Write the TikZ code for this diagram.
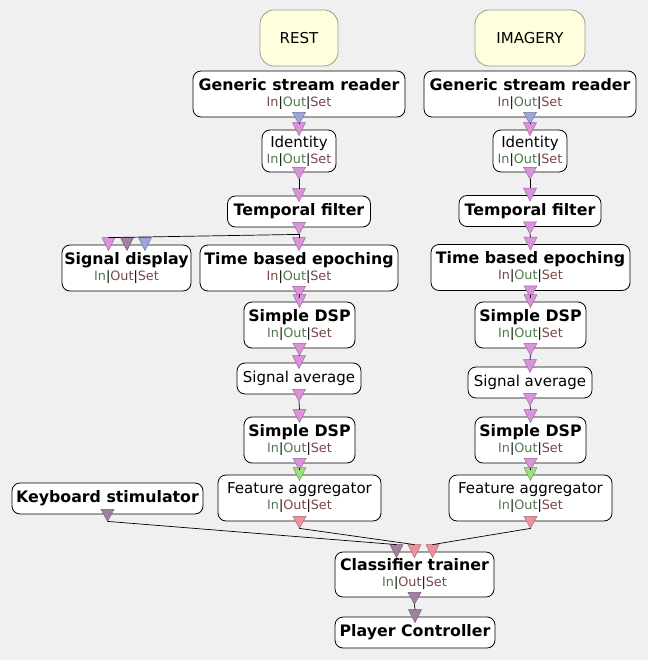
\documentclass[tikz,border=0pt]{standalone}
\usepackage{fontspec}
\setmainfont{DejaVu Sans}
\usepackage{xcolor}
\usetikzlibrary{positioning}

\definecolor{canvas}{HTML}{F0F0F0}
\definecolor{notefill}{HTML}{FFFFDD}
\definecolor{sigport}{HTML}{DA92DA}
\definecolor{infoport}{HTML}{9DA5DC}
\definecolor{featport}{HTML}{EE919B}
\definecolor{matport}{HTML}{9CDC7C}
\definecolor{stimport}{HTML}{A280A2}
\definecolor{okcol}{HTML}{4E7A4E}
\definecolor{nocol}{HTML}{7A4646}

\newcommand{\io}[3]{{\fontsize{12.8}{16}\selectfont\textcolor{#1}{In}|\textcolor{#2}{Out}|\textcolor{#3}{Set}}}
\newcommand{\head}[1]{{\fontsize{15.8}{16}\selectfont\bfseries #1}}

\begin{document}
\begin{tikzpicture}[
    x=1pt, y=-1pt,
    font=\fontsize{15}{16}\selectfont,
    box/.style={draw, rounded corners=8pt, fill=white, align=center, inner sep=0pt, line width=0.8pt},
    twoline/.style={box, minimum height=46pt},
    oneline/.style={box, minimum height=31pt},
    note/.style={draw=black!40, rounded corners=14pt, fill=notefill, inner sep=0pt, line width=0.8pt},
    arr/.style={line width=0.7pt},
    pics/oport/.style={code={
        \filldraw[fill=#1, draw=#1!70!black, line width=0.4pt] (-6.5,-5) -- (6.5,-5) -- (0,7) -- cycle;
        \coordinate (-tip) at (0,7);}},
    pics/iport/.style={code={
        \filldraw[fill=#1, draw=#1!70!black, line width=0.4pt] (-6.5,-7) -- (6.5,-7) -- (0,6) -- cycle;
        \coordinate (-top) at (0,-7);}}
]
\fill[canvas] (0,0) rectangle (648,660);
\useasboundingbox (0,0) rectangle (648,660);

\node[note, minimum width=78pt, minimum height=56pt] (rest) at (299,38) {REST};
\node[note, minimum width=110pt, minimum height=56pt] (imag) at (530,38) {IMAGERY};

\node[twoline, minimum width=212pt] (gsrL) at (299,94) {\head{Generic stream reader}\\\io{nocol}{okcol}{nocol}};
\node[twoline, minimum width=212pt] (gsrR) at (530,94) {\head{Generic stream reader}\\\io{nocol}{okcol}{nocol}};
\node[box, minimum width=74pt, minimum height=42pt, text depth=3pt] (idL) at (299,151) {Identity\\\io{okcol}{okcol}{nocol}};
\node[box, minimum width=74pt, minimum height=42pt, text depth=3pt] (idR) at (530,151) {Identity\\\io{okcol}{okcol}{nocol}};
\node[oneline, minimum width=143pt] (tfL) at (299,211.5) {\head{Temporal filter}};
\node[oneline, minimum width=142pt] (tfR) at (530,211) {\head{Temporal filter}};
\node[twoline, minimum width=129pt] (sdisp) at (126.5,268) {\head{Signal display}\\\io{okcol}{nocol}{nocol}};
\node[twoline, minimum width=198pt] (tbeL) at (299,268) {\head{Time based epoching}\\\io{nocol}{okcol}{nocol}};
\node[twoline, minimum width=199pt] (tbeR) at (530.5,267.5) {\head{Time based epoching}\\\io{nocol}{okcol}{nocol}};
\node[twoline, minimum width=111pt] (dspL) at (299.5,325) {\head{Simple DSP}\\\io{okcol}{okcol}{nocol}};
\node[twoline, minimum width=111pt] (dspR) at (530.5,325) {\head{Simple DSP}\\\io{okcol}{okcol}{nocol}};
\node[oneline, minimum width=124pt] (savL) at (299,378.5) {Signal average};
\node[oneline, minimum width=124pt] (savR) at (530,382.5) {Signal average};
\node[twoline, minimum width=111pt] (dsp2L) at (299.5,440) {\head{Simple DSP}\\\io{okcol}{okcol}{nocol}};
\node[twoline, minimum width=111pt] (dsp2R) at (530.5,440) {\head{Simple DSP}\\\io{okcol}{okcol}{nocol}};
\node[twoline, minimum width=163pt] (faL) at (299.5,498) {Feature aggregator\\\io{okcol}{nocol}{nocol}};
\node[twoline, minimum width=163pt] (faR) at (530.5,498) {Feature aggregator\\\io{okcol}{okcol}{nocol}};
\node[oneline, minimum width=191pt] (kbd) at (107.5,498.5) {\head{Keyboard stimulator}};
\node[box, minimum width=159pt, minimum height=45pt] (ctr) at (414.5,574.5) {\head{Classifier trainer}\\\io{okcol}{nocol}{nocol}};
\node[oneline, minimum width=160pt] (pc) at (415,632.5) {\head{Player Controller}};

\pic (gsrLo) at (gsrL.south) {oport=infoport};
\pic (gsrRo) at (gsrR.south) {oport=infoport};
\pic (idLi) at (idL.north) {iport=sigport};
\pic (idRi) at (idR.north) {iport=sigport};
\pic (idLo) at (idL.south) {oport=sigport};
\pic (idRo) at (idR.south) {oport=sigport};
\pic (tfLi) at (tfL.north) {iport=sigport};
\pic (tfRi) at (tfR.north) {iport=sigport};
\pic (tfLo) at (tfL.south) {oport=sigport};
\pic (tfRo) at (tfR.south) {oport=sigport};
\pic (sdi1) at ([xshift=-18pt]sdisp.north) {iport=sigport};
\pic (sdi2) at ([xshift=0.5pt]sdisp.north) {iport=stimport};
\pic (sdi3) at ([xshift=18.5pt]sdisp.north) {iport=infoport};
\pic (tbeLi) at (tbeL.north) {iport=sigport};
\pic (tbeRi) at (tbeR.north) {iport=sigport};
\pic (tbeLo) at (tbeL.south) {oport=sigport};
\pic (tbeRo) at (tbeR.south) {oport=sigport};
\pic (dspLi) at (dspL.north) {iport=sigport};
\pic (dspRi) at (dspR.north) {iport=sigport};
\pic (dspLo) at (dspL.south) {oport=sigport};
\pic (dspRo) at (dspR.south) {oport=sigport};
\pic (savLi) at (savL.north) {iport=sigport};
\pic (savRi) at (savR.north) {iport=sigport};
\pic (savLo) at (savL.south) {oport=sigport};
\pic (savRo) at (savR.south) {oport=sigport};
\pic (dsp2Li) at (dsp2L.north) {iport=sigport};
\pic (dsp2Ri) at (dsp2R.north) {iport=sigport};
\pic (dsp2Lo) at (dsp2L.south) {oport=sigport};
\pic (dsp2Ro) at (dsp2R.south) {oport=sigport};
\pic (faLi) at (faL.north) {iport=matport};
\pic (faRi) at (faR.north) {iport=matport};
\pic (faLo) at (faL.south) {oport=featport};
\pic (faRo) at (faR.south) {oport=featport};
\pic (kbdo) at (kbd.south) {oport=stimport};
\pic (ctri1) at ([xshift=-18pt]ctr.north) {iport=stimport};
\pic (ctri2) at (ctr.north) {iport=featport};
\pic (ctri3) at ([xshift=18pt]ctr.north) {iport=featport};
\pic (ctro) at (ctr.south) {oport=stimport};
\pic (pci) at (pc.north) {iport=stimport};

\draw[arr] (gsrLo-tip) -- (idLi-top);
\draw[arr] (gsrRo-tip) -- (idRi-top);
\draw[arr] (idLo-tip) -- (tfLi-top);
\draw[arr] (idRo-tip) -- (tfRi-top);
\draw[arr] (tfLo-tip) -- (tbeLi-top);
\draw[arr] (tfLo-tip) -- (sdi1-top);
\draw[arr] (tfRo-tip) -- (tbeRi-top);
\draw[arr] (tbeLo-tip) -- (dspLi-top);
\draw[arr] (tbeRo-tip) -- (dspRi-top);
\draw[arr] (dspLo-tip) -- (savLi-top);
\draw[arr] (dspRo-tip) -- (savRi-top);
\draw[arr] (savLo-tip) -- (dsp2Li-top);
\draw[arr] (savRo-tip) -- (dsp2Ri-top);
\draw[arr] (dsp2Lo-tip) -- (faLi-top);
\draw[arr] (dsp2Ro-tip) -- (faRi-top);
\draw[arr] (kbdo-tip) -- (ctri1-top);
\draw[arr] (faLo-tip) -- (ctri2-top);
\draw[arr] (faRo-tip) -- (ctri3-top);
\draw[arr] (ctro-tip) -- (pci-top);
\end{tikzpicture}
\end{document}
